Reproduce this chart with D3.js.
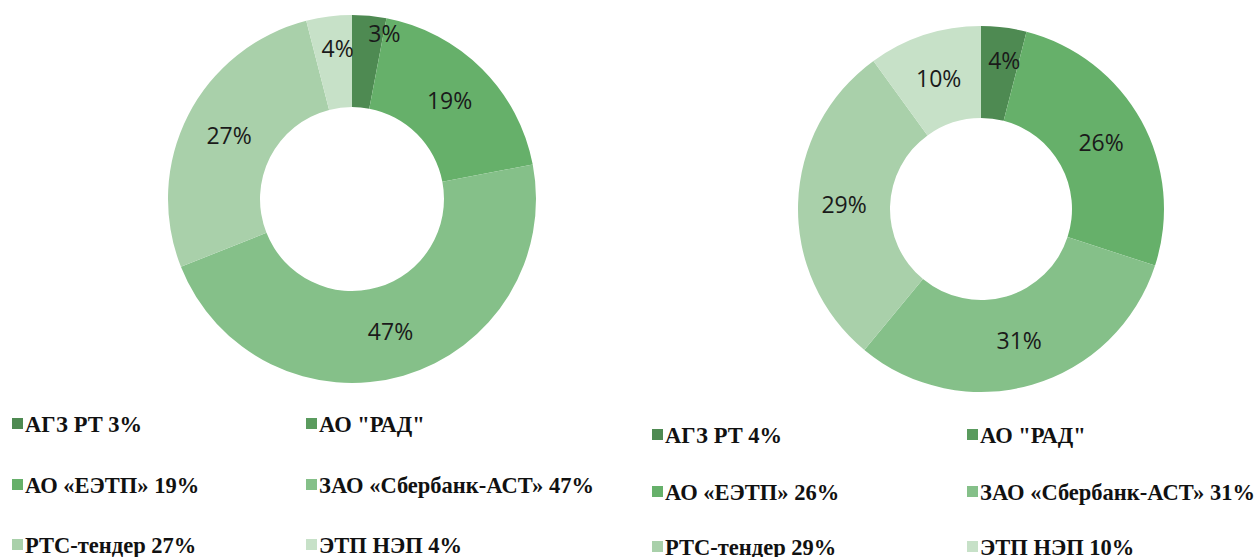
<!DOCTYPE html>
<html>
<head>
<meta charset="utf-8">
<script src="https://cdn.jsdelivr.net/npm/d3@7"></script>
<style>
  body { margin: 0; background: #fff; }
  svg { display: block; }
  .lbl { font-family: "Open Sans", sans-serif; font-size: 23px; fill: #1a1a1a; }
  .leg { font-family: "Liberation Serif", Tinos, "Times New Roman", "DejaVu Serif", serif; font-weight: bold; font-size: 22.5px; fill: #111; }
</style>
</head>
<body>
<svg id="chart" width="1258" height="557"></svg>
<script>
"use strict"

// категории площадок (одинаковые для обеих диаграмм)
const categories = ["АГЗ РТ", "АО \"РАД\"", "АО «ЕЭТП»", "ЗАО «Сбербанк-АСТ»", "РТС-тендер", "ЭТП НЭП"];
const colors = ["#4e8a52", "#5a9b5e", "#66b06a", "#85c089", "#a9d0aa", "#c7e1c8"];

// доли, %
const valuesLeft = [3, 0, 19, 47, 27, 4];
const valuesRight = [4, 0, 26, 31, 29, 10];

// подписи в легенде
const legendLeft = ["АГЗ РТ 3%", "АО \"РАД\"", "АО «ЕЭТП» 19%", "ЗАО «Сбербанк-АСТ» 47%", "РТС-тендер 27%", "ЭТП НЭП 4%"];
const legendRight = ["АГЗ РТ 4%", "АО \"РАД\"", "АО «ЕЭТП» 26%", "ЗАО «Сбербанк-АСТ» 31%", "РТС-тендер 29%", "ЭТП НЭП 10%"];

const svg = d3.select("#chart");
const color = d3.scaleOrdinal().domain(categories).range(colors);

/**
 * @function
 * @description disegna un donut con le etichette percentuali
 */
function drawDonut(values, cx, cy, rOut, rIn) {
    let data = categories.map((c, i) => ({cat: c, value: values[i]}));
    let pie = d3.pie().sort(null).value(d => d.value);
    let arc = d3.arc().innerRadius(rIn).outerRadius(rOut);
    let arcs = pie(data);

    let g = svg.append("g").attr("transform", `translate(${cx},${cy})`);
    g.selectAll("path")
        .data(arcs)
        .join("path")
        .attr("d", arc)
        .attr("fill", d => color(d.data.cat));

    let mid = (rOut + rIn) / 2;
    g.selectAll("text")
        .data(arcs.filter(d => d.data.value > 0))
        .join("text")
        .attr("class", "lbl")
        .attr("text-anchor", "middle")
        .attr("dy", "0.35em")
        .attr("transform", d => {
            let a = (d.startAngle + d.endAngle) / 2;
            let r = mid;
            // piccole fette: Excel sposta l'etichetta verso il bordo
            if (d.data.value <= 3) { r = rOut - 16; a = a + 0.1; }
            else if (d.data.value <= 4) { r = rOut - 33; a = a + 0.03; }
            return `translate(${Math.sin(a) * r},${-Math.cos(a) * r})`;
        })
        .text(d => d.data.value + "%");
}

/**
 * @function
 * @description legenda a due colonne
 */
function drawLegend(labels, x0, x1, rows) {
    let g = svg.append("g");
    labels.forEach((t, i) => {
        let x = i % 2 == 0 ? x0 : x1;
        let y = rows[Math.floor(i / 2)];
        g.append("rect")
            .attr("x", x).attr("y", y - 14)
            .attr("width", 11).attr("height", 11)
            .attr("fill", color(categories[i]));
        g.append("text")
            .attr("class", "leg")
            .attr("x", x + 13).attr("y", y)
            .text(t);
    });
}

drawDonut(valuesLeft, 352, 199, 184, 92);
drawDonut(valuesRight, 981, 209, 183, 91);

drawLegend(legendLeft, 12, 306, [432, 493, 553]);
drawLegend(legendRight, 652, 967, [443, 500, 555]);
</script>
</body>
</html>
